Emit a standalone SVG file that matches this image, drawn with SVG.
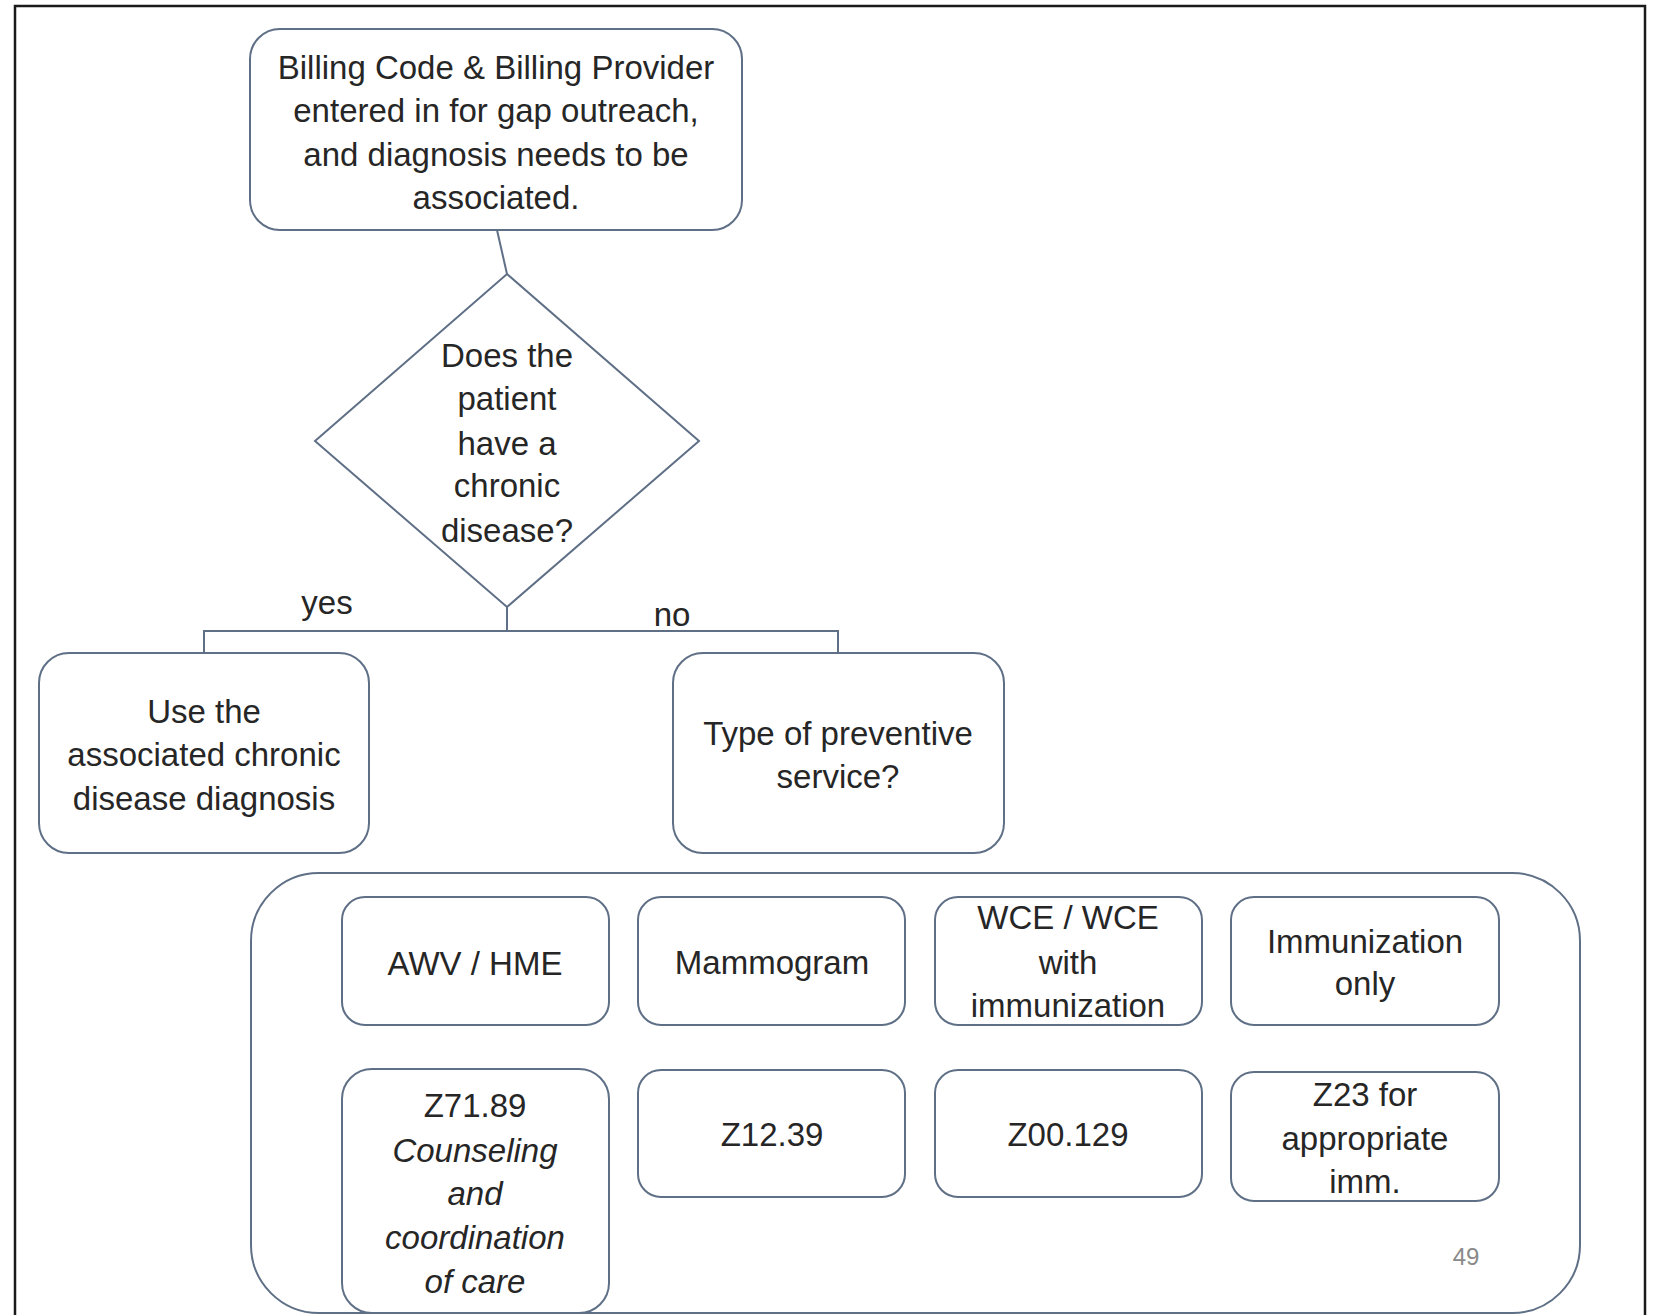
<svg xmlns="http://www.w3.org/2000/svg" width="1655" height="1315" viewBox="0 0 1655 1315">
<style>
.box{fill:#fff;stroke:#5f6f86;stroke-width:2}
.con{fill:none;stroke:#5f6f86;stroke-width:2}
.t{font-family:"Liberation Sans",Arial,sans-serif;font-size:33px;fill:#262626;text-anchor:middle}
.i{font-style:italic}
.pg{font-family:"Liberation Sans",Arial,sans-serif;font-size:24px;fill:#8a8a8a;text-anchor:middle}
</style>
<rect x="0" y="0" width="1655" height="1315" fill="#fff"/>
<path d="M15,1315 V6 H1645 V1315" fill="none" stroke="#1a1a1a" stroke-width="2.5"/>

<g id="connectors">
  <line class="con" x1="497" y1="230" x2="507" y2="274"/>
  <polyline class="con" points="507,607 507,631"/>
  <polyline class="con" points="204,653 204,631 838,631 838,653"/>
  <text class="t" x="327" y="614">yes</text>
  <text class="t" x="672" y="626">no</text>
</g>

<g id="start">
  <rect class="box" x="250" y="29" width="492" height="201" rx="30"/>
  <text class="t" x="496" y="79">Billing Code &amp; Billing Provider</text>
  <text class="t" x="496" y="122">entered in for gap outreach,</text>
  <text class="t" x="496" y="166">and diagnosis needs to be</text>
  <text class="t" x="496" y="209">associated.</text>
</g>

<g id="decision">
  <polygon class="box" points="507,274 699,441 507,607 315,441"/>
  <text class="t" x="507" y="367">Does the</text>
  <text class="t" x="507" y="410">patient</text>
  <text class="t" x="507" y="455">have a</text>
  <text class="t" x="507" y="497">chronic</text>
  <text class="t" x="507" y="542">disease?</text>
</g>

<g id="chronic">
  <rect class="box" x="39" y="653" width="330" height="200" rx="30"/>
  <text class="t" x="204" y="723">Use the</text>
  <text class="t" x="204" y="766">associated chronic</text>
  <text class="t" x="204" y="810">disease diagnosis</text>
</g>

<g id="preventive">
  <rect class="box" x="673" y="653" width="331" height="200" rx="30"/>
  <text class="t" x="838" y="745">Type of preventive</text>
  <text class="t" x="838" y="788">service?</text>
</g>

<g id="container">
  <rect class="box" x="251" y="873" width="1329" height="440" rx="68"/>
</g>

<g id="awv">
  <rect class="box" x="342" y="897" width="267" height="128" rx="23"/>
  <text class="t" x="475" y="975">AWV / HME</text>
</g>
<g id="mammogram">
  <rect class="box" x="638" y="897" width="267" height="128" rx="23"/>
  <text class="t" x="772" y="974">Mammogram</text>
</g>
<g id="wce">
  <rect class="box" x="935" y="897" width="267" height="128" rx="23"/>
  <text class="t" x="1068" y="929">WCE / WCE</text>
  <text class="t" x="1068" y="974">with</text>
  <text class="t" x="1068" y="1017">immunization</text>
</g>
<g id="immunization">
  <rect class="box" x="1231" y="897" width="268" height="128" rx="23"/>
  <text class="t" x="1365" y="953">Immunization</text>
  <text class="t" x="1365" y="995">only</text>
</g>

<g id="z7189">
  <rect class="box" x="342" y="1069" width="267" height="244" rx="30"/>
  <text class="t" x="475" y="1117">Z71.89</text>
  <text class="t i" x="475" y="1162">Counseling</text>
  <text class="t i" x="475" y="1205">and</text>
  <text class="t i" x="475" y="1249">coordination</text>
  <text class="t i" x="475" y="1293">of care</text>
</g>
<g id="z1239">
  <rect class="box" x="638" y="1070" width="267" height="127" rx="23"/>
  <text class="t" x="772" y="1146">Z12.39</text>
</g>
<g id="z00129">
  <rect class="box" x="935" y="1070" width="267" height="127" rx="23"/>
  <text class="t" x="1068" y="1146">Z00.129</text>
</g>
<g id="z23">
  <rect class="box" x="1231" y="1072" width="268" height="129" rx="23"/>
  <text class="t" x="1365" y="1106">Z23 for</text>
  <text class="t" x="1365" y="1150">appropriate</text>
  <text class="t" x="1365" y="1193">imm.</text>
</g>

<text class="pg" x="1466" y="1265">49</text>
</svg>
